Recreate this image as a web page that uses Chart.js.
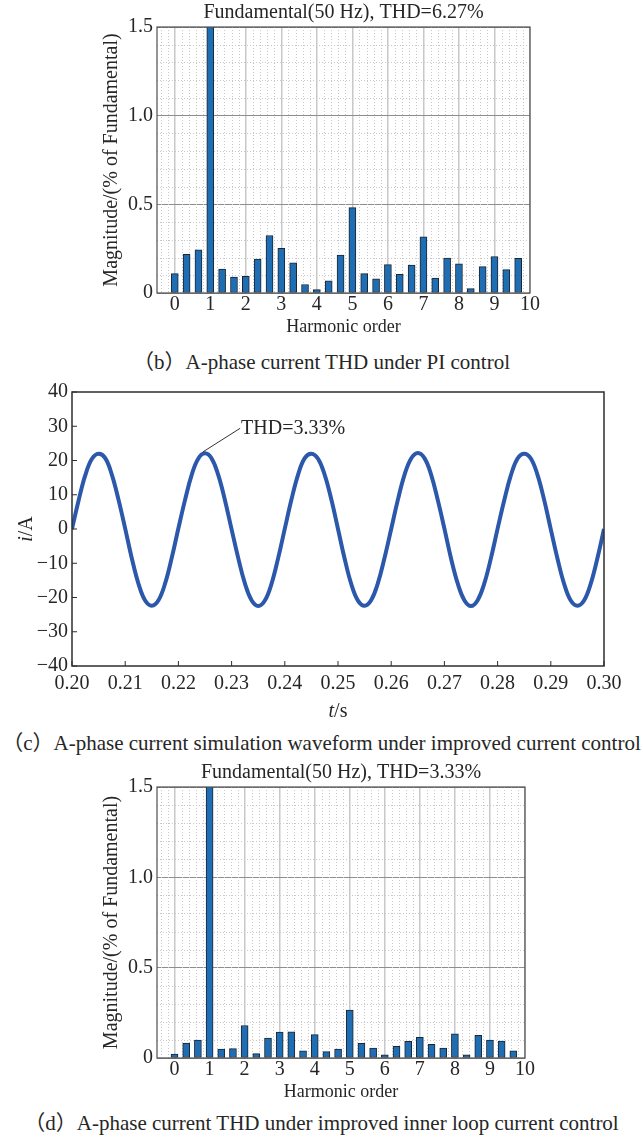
<!DOCTYPE html>
<html>
<head>
<meta charset="utf-8">
<script src="https://cdn.jsdelivr.net/npm/chart.js@4.4.1/dist/chart.umd.min.js"></script>
<style>
    html, body { margin: 0; padding: 0; background: #fff; }
    #page { position: relative; width: 643px; height: 1142px; overflow: hidden; }
    canvas { position: absolute; left: 0; }
    .caption {
        position: absolute; left: 0; width: 643px; text-align: center;
        font-family: "Liberation Serif", "Noto Sans CJK SC", serif;
        font-size: 21px; line-height: 24px; color: #262626; white-space: nowrap;
    }
</style>
</head>
<body>
<div id="page">
    <canvas id="thd-pi" width="643" height="345" style="top:0"></canvas>
    <div class="caption" style="top:350px">（b）A-phase current THD under PI control</div>
    <canvas id="wave" width="643" height="352" style="top:375px"></canvas>
    <div class="caption" style="top:731px">（c）A-phase current simulation waveform under improved current control</div>
    <canvas id="thd-improved" width="643" height="360" style="top:750px"></canvas>
    <div class="caption" style="top:1111px">（d）A-phase current THD under improved inner loop current control</div>
</div>
<script>
// harmonic spectra, bins every 1/3 order
var harmonicOrders = [0, 0.333, 0.667, 1, 1.333, 1.667, 2, 2.333, 2.667, 3,
    3.333, 3.667, 4, 4.333, 4.667, 5, 5.333, 5.667, 6, 6.333,
    6.667, 7, 7.333, 7.667, 8, 8.333, 8.667, 9, 9.333, 9.667];
var magnitudePI = [0.109, 0.218, 0.244, 100, 0.135, 0.090, 0.094, 0.191, 0.324, 0.252,
    0.170, 0.048, 0.019, 0.069, 0.214, 0.481, 0.109, 0.080, 0.160, 0.105,
    0.158, 0.317, 0.084, 0.197, 0.164, 0.025, 0.149, 0.206, 0.132, 0.195];
var magnitudeImproved = [0.022, 0.083, 0.099, 100, 0.050, 0.052, 0.180, 0.024, 0.110, 0.144,
    0.145, 0.039, 0.129, 0.035, 0.050, 0.265, 0.081, 0.055, 0.018, 0.064,
    0.092, 0.114, 0.076, 0.055, 0.134, 0.018, 0.125, 0.099, 0.094, 0.039];
var harmonicTicks = [0, 1, 2, 3, 4, 5, 6, 7, 8, 9, 10];
var magnitudeTicks = [0, 0.5, 1, 1.5];

// A-phase current waveform
var waveTime = [
    0.2, 0.20125, 0.2025, 0.20375, 0.205, 0.20625, 0.2075, 0.20875, 0.21, 0.21125, 0.2125, 0.21375, 0.215, 0.21625, 0.2175, 0.21875,
    0.22, 0.22125, 0.2225, 0.22375, 0.225, 0.22625, 0.2275, 0.22875, 0.23, 0.23125, 0.2325, 0.23375, 0.235, 0.23625, 0.2375, 0.23875,
    0.24, 0.24125, 0.2425, 0.24375, 0.245, 0.24625, 0.2475, 0.24875, 0.25, 0.25125, 0.2525, 0.25375, 0.255, 0.25625, 0.2575, 0.25875,
    0.26, 0.26125, 0.2625, 0.26375, 0.265, 0.26625, 0.2675, 0.26875, 0.27, 0.27125, 0.2725, 0.27375, 0.275, 0.27625, 0.2775, 0.27875,
    0.28, 0.28125, 0.2825, 0.28375, 0.285, 0.28625, 0.2875, 0.28875, 0.29, 0.29125, 0.2925, 0.29375, 0.295, 0.29625, 0.2975, 0.29875,
    0.3];
var waveCurrent = [
    0.0, 8.4, 15.7, 20.5, 22.0, 20.7, 15.8, 8.5, 0.1, -8.6, -16.0, -20.9, -22.4, -20.8, -15.9, -8.4,
    0.2, 8.5, 15.8, 20.6, 22.1, 20.6, 15.7, 8.4, -0.1, -8.5, -15.9, -20.8, -22.5, -20.9, -16.0, -8.5,
    0.1, 8.6, 15.9, 20.7, 22.0, 20.5, 15.8, 8.6, 0.0, -8.7, -16.1, -20.9, -22.4, -20.7, -15.8, -8.4,
    0.0, 8.5, 15.8, 20.6, 22.2, 20.7, 15.9, 8.5, 0.1, -8.6, -15.9, -20.8, -22.5, -20.8, -15.9, -8.5,
    0.1, 8.4, 15.7, 20.6, 22.0, 20.6, 15.8, 8.5, -0.1, -8.6, -16.0, -20.9, -22.4, -20.9, -16.0, -8.6,
    0.0];
var timeTicks = [0.20, 0.21, 0.22, 0.23, 0.24, 0.25, 0.26, 0.27, 0.28, 0.29, 0.30];
var currentTicks = [-40, -30, -20, -10, 0, 10, 20, 30, 40];

var serif = '"Liberation Serif", "Times New Roman", "DejaVu Serif", serif';
Chart.defaults.font.family = serif;
Chart.defaults.color = '#262626';

// minor grid values between min and max, skipping the major ones
function minorValues(min, max, step, major) {
    var out = [];
    var n = Math.round((max - min) / step);
    for (var i = 0; i <= n; i++) {
        var v = +(Math.ceil(min / step) * step + i * step).toFixed(4);
        if (v <= min || v >= max) continue;
        if (Math.abs(v / major - Math.round(v / major)) < 1e-6) continue;
        out.push(v);
    }
    return out;
}

function setFont(ctx, size, italic) {
    ctx.font = (italic ? 'italic ' : '') + size + 'px ' + serif;
}

// frame, minor dotted grid, inner tick marks, extra text
var plotFrame = {
    id: 'plotFrame',
    beforeDatasetsDraw: function (chart, args, opts) {
        var ctx = chart.ctx, a = chart.chartArea;
        if (!opts.minorX) return;
        ctx.save();
        ctx.beginPath();
        ctx.rect(a.left, a.top, a.right - a.left, a.bottom - a.top);
        ctx.clip();
        ctx.strokeStyle = '#c9c9c9';
        ctx.lineWidth = 1;
        ctx.setLineDash([1, 2]);
        opts.minorX.forEach(function (v) {
            var x = Math.round(chart.scales.x.getPixelForValue(v)) + 0.5;
            ctx.beginPath(); ctx.moveTo(x, a.top); ctx.lineTo(x, a.bottom); ctx.stroke();
        });
        opts.minorY.forEach(function (v) {
            var y = Math.round(chart.scales.y.getPixelForValue(v)) + 0.5;
            ctx.beginPath(); ctx.moveTo(a.left, y); ctx.lineTo(a.right, y); ctx.stroke();
        });
        ctx.restore();
    },
    afterDatasetsDraw: function (chart, args, opts) {
        var ctx = chart.ctx, a = chart.chartArea;
        ctx.save();
        ctx.strokeStyle = opts.color;
        ctx.lineWidth = opts.width;
        ctx.strokeRect(a.left, a.top, a.right - a.left, a.bottom - a.top);
        if (opts.innerTicks) {
            ctx.lineWidth = 1;
            chart.scales.x.ticks.forEach(function (t) {
                var x = chart.scales.x.getPixelForValue(t.value);
                ctx.beginPath(); ctx.moveTo(x, a.bottom); ctx.lineTo(x, a.bottom - 5); ctx.stroke();
            });
            chart.scales.y.ticks.forEach(function (t) {
                var y = chart.scales.y.getPixelForValue(t.value);
                ctx.beginPath(); ctx.moveTo(a.left, y); ctx.lineTo(a.left + 5, y); ctx.stroke();
            });
        }
        ctx.restore();
    },
    afterDraw: function (chart, args, opts) {
        var ctx = chart.ctx, a = chart.chartArea;
        ctx.save();
        ctx.fillStyle = '#262626';
        ctx.textBaseline = 'middle';
        if (opts.title) {
            setFont(ctx, 20, false);
            ctx.textAlign = 'center';
            ctx.fillText(opts.title, (a.left + a.right) / 2, a.top - 14);
        }
        (opts.labels || []).forEach(function (lab) {
            var total = 0;
            lab.parts.forEach(function (p) { setFont(ctx, lab.size, p.italic); total += ctx.measureText(p.text).width; });
            ctx.save();
            if (lab.side === 'left') {
                ctx.translate(a.left - lab.offset, (a.top + a.bottom) / 2);
                ctx.rotate(-Math.PI / 2);
            } else {
                ctx.translate((a.left + a.right) / 2, a.bottom + lab.offset);
            }
            ctx.textAlign = 'left';
            var x = -total / 2;
            lab.parts.forEach(function (p) {
                setFont(ctx, lab.size, p.italic);
                ctx.fillText(p.text, x, 0);
                x += ctx.measureText(p.text).width;
            });
            ctx.restore();
        });
        if (opts.callout) {
            var c = opts.callout, sx = chart.scales.x, sy = chart.scales.y;
            var x0 = sx.getPixelForValue(c.from[0]), y0 = sy.getPixelForValue(c.from[1]);
            var x1 = sx.getPixelForValue(c.to[0]), y1 = sy.getPixelForValue(c.to[1]);
            ctx.strokeStyle = '#333';
            ctx.lineWidth = 1;
            ctx.beginPath(); ctx.moveTo(x0, y0); ctx.lineTo(x1, y1); ctx.stroke();
            setFont(ctx, 20, false);
            ctx.textAlign = 'left';
            ctx.fillText(c.text, x1 + 1, y1);
        }
        ctx.restore();
    }
};

function drawSpectrumChart(id, values, title, padTop, padRight) {
    new Chart(document.getElementById(id), {
        type: 'bar',
        data: {
            datasets: [{
                data: harmonicOrders.map(function (h, i) { return {x: h, y: values[i]}; }),
                backgroundColor: '#1f6db3',
                borderColor: '#1c2530',
                borderWidth: 1,
                borderSkipped: false,
                barThickness: 7
            }]
        },
        options: {
            responsive: false,
            animation: false,
            layout: {padding: {top: padTop, right: padRight, left: 0, bottom: 0}},
            plugins: {
                legend: {display: false},
                tooltip: {enabled: false},
                plotFrame: {
                    color: '#505050', width: 1.2, title: title,
                    minorX: minorValues(-0.5, 10, 0.2, 1),
                    minorY: minorValues(0, 1.5, 0.1, 0.5)
                }
            },
            scales: {
                x: {
                    type: 'linear', min: -0.5, max: 10, offset: false,
                    afterBuildTicks: function (s) { s.ticks = harmonicTicks.map(function (v) { return {value: v}; }); },
                    afterFit: function (s) { s.height = 52; },
                    grid: {offset: false, drawTicks: false, color: '#c8c8c8', lineWidth: 1.5},
                    border: {display: false},
                    ticks: {padding: 0, font: {size: 20}, maxRotation: 0, autoSkip: false,
                        callback: function (v) { return String(v); }},
                    title: {display: true, text: 'Harmonic order', font: {size: 18}, padding: {top: 0, bottom: 6.7}}
                },
                y: {
                    min: 0, max: 1.5,
                    afterBuildTicks: function (s) { s.ticks = magnitudeTicks.map(function (v) { return {value: v}; }); },
                    afterFit: function (s) { s.width = 157; },
                    grid: {drawTicks: false, color: '#8e8e8e', lineWidth: 1},
                    border: {display: false},
                    ticks: {padding: 4, font: {size: 20},
                        callback: function (v) { return v === 0 ? '0' : v.toFixed(1); }},
                    title: {display: true, text: 'Magnitude/(% of Fundamental)', font: {size: 20}, padding: {top: 100, bottom: 0}}
                }
            }
        },
        plugins: [plotFrame]
    });
}

function drawWaveChart() {
    new Chart(document.getElementById('wave'), {
        type: 'line',
        data: {
            datasets: [{
                data: waveTime.map(function (t, i) { return {x: t, y: waveCurrent[i]}; }),
                borderColor: '#2b58aa',
                borderWidth: 4,
                pointRadius: 0,
                tension: 0.4,
                fill: false
            }]
        },
        options: {
            responsive: false,
            animation: false,
            layout: {padding: {top: 17, right: 39, left: 0, bottom: 0}},
            plugins: {
                legend: {display: false},
                tooltip: {enabled: false},
                plotFrame: {
                    color: '#2e2e2e', width: 1.5, innerTicks: true,
                    labels: [
                        {parts: [{text: 'i', italic: true}, {text: '/A'}], side: 'left', offset: 45, size: 20},
                        {parts: [{text: 't', italic: true}, {text: '/s'}], side: 'bottom', offset: 46, size: 20}
                    ],
                    callout: {from: [0.2246, 22.5], to: [0.2316, 29.4], text: 'THD=3.33%'}
                }
            },
            scales: {
                x: {
                    type: 'linear', min: 0.2, max: 0.3,
                    afterBuildTicks: function (s) { s.ticks = timeTicks.map(function (v) { return {value: v}; }); },
                    afterFit: function (s) { s.height = 61; },
                    grid: {display: false, drawTicks: false},
                    border: {display: false},
                    ticks: {padding: 6, font: {size: 20}, maxRotation: 0, autoSkip: false,
                        callback: function (v) { return v.toFixed(2); }}
                },
                y: {
                    min: -40, max: 40,
                    afterBuildTicks: function (s) { s.ticks = currentTicks.map(function (v) { return {value: v}; }); },
                    afterFit: function (s) { s.width = 72; },
                    grid: {display: false, drawTicks: false},
                    border: {display: false},
                    ticks: {padding: 4, font: {size: 20},
                        callback: function (v) { return v < 0 ? '\u2212' + Math.abs(v) : String(v); }}
                }
            }
        },
        plugins: [plotFrame]
    });
}

drawSpectrumChart('thd-pi', magnitudePI, 'Fundamental(50 Hz), THD=6.27%', 27, 113);
drawWaveChart();
drawSpectrumChart('thd-improved', magnitudeImproved, 'Fundamental(50 Hz), THD=3.33%', 37, 118);
</script>
</body>
</html>
